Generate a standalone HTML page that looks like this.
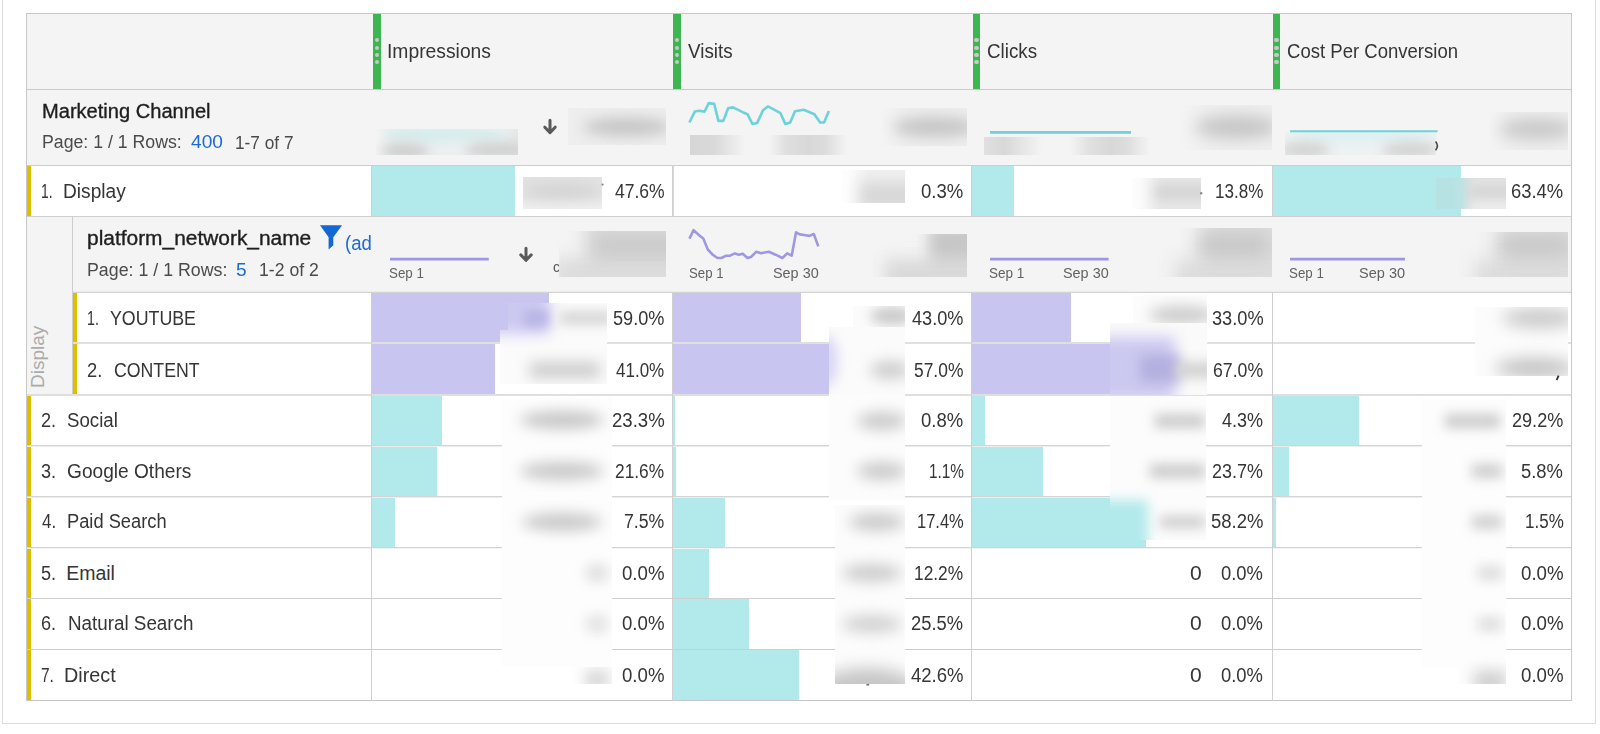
<!DOCTYPE html>
<html><head><meta charset="utf-8"><style>
html,body{margin:0;padding:0;width:1600px;height:734px;overflow:hidden;background:#fff}
#root{position:relative;width:1600px;height:734px;overflow:hidden}
#root div,#root span{position:absolute;box-sizing:border-box}
#root span{font-family:"Liberation Sans",sans-serif;white-space:nowrap;transform-origin:0 0}
</style></head><body><div id="root">
<div style="left:2px;top:0px;width:1px;height:724px;background:#dcdcdc;"></div><div style="left:1595px;top:0px;width:1px;height:724px;background:#dcdcdc;"></div><div style="left:2px;top:723px;width:1594px;height:1px;background:#dcdcdc;"></div><div style="left:26px;top:13px;width:1546px;height:688px;background:#ffffff;"></div><div style="left:26px;top:13px;width:1546px;height:153px;background:#f4f4f4;"></div><div style="left:27px;top:216px;width:45px;height:179px;background:#f4f4f4;"></div><div style="left:72px;top:216px;width:1500px;height:76px;background:#f4f4f4;"></div><div style="left:27px;top:166px;width:4px;height:50px;background:#dfbe00;"></div><div style="left:73px;top:293px;width:4px;height:49px;background:#dfbe00;"></div><div style="left:73px;top:344px;width:4px;height:50px;background:#dfbe00;"></div><div style="left:27px;top:396px;width:4px;height:49px;background:#dfbe00;"></div><div style="left:27px;top:446px;width:4px;height:50px;background:#dfbe00;"></div><div style="left:27px;top:497px;width:4px;height:50px;background:#dfbe00;"></div><div style="left:27px;top:548px;width:4px;height:50px;background:#dfbe00;"></div><div style="left:27px;top:599px;width:4px;height:50px;background:#dfbe00;"></div><div style="left:27px;top:650px;width:4px;height:50px;background:#dfbe00;"></div><div style="left:373px;top:14px;width:8px;height:75px;background:#3db551;"></div><div style="left:374.9px;top:38.1px;width:4.2px;height:4.2px;border-radius:50%;background:#c6c9c6"></div><div style="left:374.9px;top:45.5px;width:4.2px;height:4.2px;border-radius:50%;background:#c6c9c6"></div><div style="left:374.9px;top:52.9px;width:4.2px;height:4.2px;border-radius:50%;background:#c6c9c6"></div><div style="left:374.9px;top:60.3px;width:4.2px;height:4.2px;border-radius:50%;background:#c6c9c6"></div><div style="left:673px;top:14px;width:8px;height:75px;background:#3db551;"></div><div style="left:674.9px;top:38.1px;width:4.2px;height:4.2px;border-radius:50%;background:#c6c9c6"></div><div style="left:674.9px;top:45.5px;width:4.2px;height:4.2px;border-radius:50%;background:#c6c9c6"></div><div style="left:674.9px;top:52.9px;width:4.2px;height:4.2px;border-radius:50%;background:#c6c9c6"></div><div style="left:674.9px;top:60.3px;width:4.2px;height:4.2px;border-radius:50%;background:#c6c9c6"></div><div style="left:973px;top:14px;width:7px;height:75px;background:#3db551;"></div><div style="left:974.4px;top:38.1px;width:4.2px;height:4.2px;border-radius:50%;background:#c6c9c6"></div><div style="left:974.4px;top:45.5px;width:4.2px;height:4.2px;border-radius:50%;background:#c6c9c6"></div><div style="left:974.4px;top:52.9px;width:4.2px;height:4.2px;border-radius:50%;background:#c6c9c6"></div><div style="left:974.4px;top:60.3px;width:4.2px;height:4.2px;border-radius:50%;background:#c6c9c6"></div><div style="left:1273px;top:14px;width:7px;height:75px;background:#3db551;"></div><div style="left:1274.4px;top:38.1px;width:4.2px;height:4.2px;border-radius:50%;background:#c6c9c6"></div><div style="left:1274.4px;top:45.5px;width:4.2px;height:4.2px;border-radius:50%;background:#c6c9c6"></div><div style="left:1274.4px;top:52.9px;width:4.2px;height:4.2px;border-radius:50%;background:#c6c9c6"></div><div style="left:1274.4px;top:60.3px;width:4.2px;height:4.2px;border-radius:50%;background:#c6c9c6"></div><div style="left:372px;top:166px;width:143px;height:50px;background:#b2eaec;"></div><div style="left:673px;top:166px;width:1px;height:50px;background:#b2eaec;"></div><div style="left:972px;top:166px;width:42px;height:50px;background:#b2eaec;"></div><div style="left:1273px;top:166px;width:188.3px;height:50px;background:#b2eaec;"></div><div style="left:372px;top:293px;width:176.7px;height:49px;background:#c8c6f0;"></div><div style="left:673px;top:293px;width:128.4px;height:49px;background:#c8c6f0;"></div><div style="left:972px;top:293px;width:98.8px;height:49px;background:#c8c6f0;"></div><div style="left:372px;top:344px;width:123px;height:50px;background:#c8c6f0;"></div><div style="left:673px;top:344px;width:156.9px;height:50px;background:#c8c6f0;"></div><div style="left:972px;top:344px;width:138px;height:50px;background:#c8c6f0;"></div><div style="left:372px;top:396px;width:69.8px;height:49px;background:#b2eaec;"></div><div style="left:673px;top:396px;width:2px;height:49px;background:#b2eaec;"></div><div style="left:972px;top:396px;width:12.8px;height:49px;background:#b2eaec;"></div><div style="left:1273px;top:396px;width:86.3px;height:49px;background:#b2eaec;"></div><div style="left:372px;top:446px;width:65.0px;height:50px;background:#b2eaec;"></div><div style="left:673px;top:446px;width:3px;height:50px;background:#b2eaec;"></div><div style="left:972px;top:446px;width:70.9px;height:50px;background:#b2eaec;"></div><div style="left:1273px;top:446px;width:16.4px;height:50px;background:#b2eaec;"></div><div style="left:372px;top:497px;width:23.0px;height:50px;background:#b2eaec;"></div><div style="left:673px;top:497px;width:51.5px;height:50px;background:#b2eaec;"></div><div style="left:972px;top:497px;width:173.7px;height:50px;background:#b2eaec;"></div><div style="left:1273px;top:497px;width:3.3px;height:50px;background:#b2eaec;"></div><div style="left:673px;top:548px;width:35.6px;height:50px;background:#b2eaec;"></div><div style="left:673px;top:599px;width:75.5px;height:50px;background:#b2eaec;"></div><div style="left:673px;top:650px;width:126.3px;height:50px;background:#b2eaec;"></div>
<div style="left:26px;top:13px;width:1546px;height:1px;background:#c6c6c6"></div><div style="left:26px;top:89px;width:1546px;height:1px;background:#cacaca"></div><div style="left:26px;top:165px;width:1546px;height:1px;background:#cdcdcd"></div><div style="left:26px;top:216px;width:1546px;height:1px;background:#d0d0d0"></div><div style="left:72px;top:291px;width:1500px;height:1px;background:#ececec"></div><div style="left:72px;top:292px;width:1500px;height:1px;background:#d4d4d4"></div><div style="left:72px;top:342px;width:1500px;height:2px;background:#e0e0e0"></div><div style="left:26px;top:394px;width:1546px;height:2px;background:#dfdfdf"></div><div style="left:26px;top:445px;width:1546px;height:1px;background:#d4d4d4"></div><div style="left:26px;top:446px;width:1546px;height:1px;background:#ededed"></div><div style="left:26px;top:496px;width:1546px;height:1px;background:#d4d4d4"></div><div style="left:26px;top:497px;width:1546px;height:1px;background:#eeeeee"></div><div style="left:26px;top:547px;width:1546px;height:1px;background:#d2d2d2"></div><div style="left:26px;top:548px;width:1546px;height:1px;background:#f4f4f4"></div><div style="left:26px;top:598px;width:1546px;height:1px;background:#cfcfcf"></div><div style="left:26px;top:649px;width:1546px;height:1px;background:#cdcdcd"></div><div style="left:26px;top:700px;width:1546px;height:1px;background:#c6c6c6"></div><div style="left:26px;top:13px;width:1px;height:688px;background:#c8c8c8"></div><div style="left:1571px;top:13px;width:1px;height:688px;background:#c8c8c8"></div><div style="left:72px;top:216px;width:1px;height:178px;background:#cdcdcd"></div><div style="left:371px;top:165px;width:1px;height:51px;background:#d0d0d0"></div><div style="left:371px;top:292px;width:1px;height:409px;background:#d0d0d0"></div><div style="left:672px;top:165px;width:1px;height:51px;background:#d0d0d0"></div><div style="left:672px;top:292px;width:1px;height:409px;background:#d0d0d0"></div><div style="left:971px;top:165px;width:1px;height:51px;background:#d0d0d0"></div><div style="left:971px;top:292px;width:1px;height:409px;background:#d0d0d0"></div><div style="left:1272px;top:165px;width:1px;height:51px;background:#d0d0d0"></div><div style="left:1272px;top:292px;width:1px;height:409px;background:#d0d0d0"></div>
<div style="left:376px;top:129px;width:142.0px;height:26.0px;overflow:hidden;background:linear-gradient(90deg,#f4f4f4,#e9eeee 12%,#eef1f1 88%,#e6e8e8);"><div style="left:7.0px;top:-1.0px;width:124.0px;height:12.0px;border-radius:50%;background:#d2ecee;filter:blur(5px)"></div><div style="left:5.0px;top:15.0px;width:48.0px;height:14.0px;border-radius:50%;background:#cbcbcb;filter:blur(6px)"></div><div style="left:89.0px;top:13.0px;width:64.0px;height:16.0px;border-radius:50%;background:#cfcfcf;filter:blur(6px)"></div></div><div style="left:568px;top:108px;width:98.0px;height:37.0px;overflow:hidden;background:#eeeeee;"><div style="left:15.0px;top:10.0px;width:88.0px;height:18.0px;border-radius:50%;background:#c4c4c4;filter:blur(7px)"></div></div><div style="left:690px;top:135px;width:55.0px;height:20.0px;overflow:hidden;background:linear-gradient(90deg,#d6d6d6,#d9d9d9 45%,#f4f4f4);"></div><div style="left:769px;top:135px;width:78.0px;height:20.0px;overflow:hidden;background:linear-gradient(90deg,#f4f4f4,#dfdfdf 22%,#d8d8d8 50%,#dcdcdc 72%,#f4f4f4);"></div><div style="left:881px;top:108px;width:86.0px;height:38.0px;overflow:hidden;background:linear-gradient(90deg,#f4f4f4,#eeeeee 30%);"><div style="left:12.0px;top:9.0px;width:84.0px;height:20.0px;border-radius:50%;background:#c6c6c6;filter:blur(7px)"></div></div><div style="left:984px;top:137px;width:58.0px;height:18.0px;overflow:hidden;background:linear-gradient(90deg,#e0e0e0,#d8d8d8 35%,#f4f4f4);"></div><div style="left:1070px;top:137px;width:80.0px;height:18.0px;overflow:hidden;background:linear-gradient(90deg,#f4f4f4,#e0e0e0 25%,#d8d8d8 50%,#dcdcdc 70%,#f4f4f4);"></div><div style="left:1181px;top:105px;width:91.0px;height:45.0px;overflow:hidden;background:linear-gradient(90deg,#f4f4f4,#efefef 30%);"><div style="left:14.0px;top:11.0px;width:84.0px;height:22.0px;border-radius:50%;background:#c4c4c4;filter:blur(8px)"></div></div><div style="left:1285px;top:132px;width:151.0px;height:23.0px;overflow:hidden;background:#eef2f2;"><div style="left:7.0px;top:-2.0px;width:140.0px;height:12.0px;border-radius:50%;background:#dcf0f2;filter:blur(5px)"></div><div style="left:-5.0px;top:10.0px;width:50.0px;height:16.0px;border-radius:50%;background:#d2d2d2;filter:blur(6px)"></div><div style="left:97.0px;top:10.0px;width:56.0px;height:16.0px;border-radius:50%;background:#d2d2d2;filter:blur(6px)"></div></div><div style="left:1489px;top:112px;width:79.0px;height:38.0px;overflow:hidden;background:linear-gradient(90deg,#f4f4f4,#efefef 30%);"><div style="left:10.0px;top:7.0px;width:76.0px;height:20.0px;border-radius:50%;background:#c6c6c6;filter:blur(8px)"></div></div><div style="left:559px;top:231px;width:107.0px;height:46.4px;overflow:hidden"><div style="left:-19.0px;top:-31.0px;width:160.0px;height:100.0px;background:#f4f4f4;filter:blur(0px)"></div><div style="left:26.0px;top:-16.0px;width:115.0px;height:85.0px;background:#d8d8d8;filter:blur(9px)"></div><div style="left:-4.0px;top:27.0px;width:145.0px;height:42.0px;background:#dcdcdc;filter:blur(8px)"></div><div style="left:36.0px;top:6.0px;width:95.0px;height:19.0px;background:#cacaca;filter:blur(8px)"></div></div><div style="left:873px;top:234px;width:94.0px;height:43.4px;overflow:hidden"><div style="left:-23.0px;top:-24.0px;width:150.0px;height:90.0px;background:#f4f4f4;filter:blur(0px)"></div><div style="left:57.0px;top:-24.0px;width:70.0px;height:90.0px;background:#d6d6d6;filter:blur(8px)"></div><div style="left:12.0px;top:25.0px;width:115.0px;height:41.0px;background:#d9d9d9;filter:blur(8px)"></div><div style="left:59.0px;top:-4.0px;width:58.0px;height:26.0px;background:#c6c6c6;filter:blur(7px)"></div></div><div style="left:1154.8px;top:228px;width:117.2px;height:49.4px;overflow:hidden"><div style="left:-24.8px;top:-28.0px;width:170.0px;height:100.0px;background:#f4f4f4;filter:blur(0px)"></div><div style="left:45.2px;top:-23.0px;width:100.0px;height:95.0px;background:#dddddd;filter:blur(10px)"></div><div style="left:20.2px;top:32.0px;width:125.0px;height:40.0px;background:#dcdcdc;filter:blur(9px)"></div><div style="left:45.2px;top:6.0px;width:68.0px;height:22.0px;background:#c6c6c6;filter:blur(9px)"></div></div><div style="left:1454.3px;top:232px;width:113.4px;height:45.4px;overflow:hidden"><div style="left:-24.3px;top:-32.0px;width:170.0px;height:100.0px;background:#f4f4f4;filter:blur(0px)"></div><div style="left:43.7px;top:-27.0px;width:102.0px;height:95.0px;background:#dddddd;filter:blur(10px)"></div><div style="left:20.7px;top:28.0px;width:125.0px;height:40.0px;background:#dcdcdc;filter:blur(9px)"></div><div style="left:45.7px;top:4.0px;width:70.0px;height:20.0px;background:#c6c6c6;filter:blur(9px)"></div></div><div style="left:523px;top:177px;width:79.0px;height:31.6px;overflow:hidden;background:linear-gradient(180deg,#e2e2e2,#e4e4e4 60%,#efefef);"><div style="left:1.0px;top:7.0px;width:76.0px;height:14.0px;border-radius:50%;background:#d3d3d3;filter:blur(6px)"></div></div><div style="left:842px;top:170px;width:63.0px;height:32.8px;overflow:hidden"><div style="left:-22.0px;top:-20.0px;width:110.0px;height:80.0px;background:#f0f0f0;filter:blur(0px)"></div><div style="left:-37.0px;top:-20.0px;width:53.0px;height:80.0px;background:#fdfdfd;filter:blur(8px)"></div><div style="left:18.0px;top:12.0px;width:70.0px;height:28.0px;background:#d8d8d8;filter:blur(7px)"></div></div><div style="left:1132px;top:177.6px;width:69.0px;height:31.0px;overflow:hidden"><div style="left:-32.0px;top:-27.6px;width:130.0px;height:80.0px;background:#e8e8e8;filter:blur(0px)"></div><div style="left:-42.0px;top:-27.6px;width:60.0px;height:90.0px;background:#fcfcfc;filter:blur(8px)"></div><div style="left:23.0px;top:6.4px;width:60.0px;height:16.0px;background:#d4d4d4;filter:blur(6px)"></div></div><div style="left:1436.3px;top:178px;width:69.7px;height:30.6px;overflow:hidden"><div style="left:-36.3px;top:-28.0px;width:140.0px;height:90.0px;background:#e2e2e2;filter:blur(0px)"></div><div style="left:-36.3px;top:-28.0px;width:66.0px;height:90.0px;background:#b6e2e4;filter:blur(6px)"></div><div style="left:33.7px;top:8.0px;width:55.0px;height:12.0px;background:#d6d6d6;filter:blur(5px)"></div><div style="left:33.7px;top:25.0px;width:70.0px;height:37.0px;background:#eeeeee;filter:blur(6px)"></div></div><div style="left:508.4px;top:303px;width:98.6px;height:27.0px;overflow:hidden"><div style="left:-28.4px;top:-23.0px;width:140.0px;height:120.0px;background:#fbfbfb;filter:blur(0px)"></div><div style="left:-38.4px;top:-18.0px;width:80.0px;height:49.0px;background:#ccc9f1;filter:blur(7px)"></div><div style="left:15.6px;top:7.0px;width:24.0px;height:16.0px;background:#b9b6e5;filter:blur(5px)"></div><div style="left:51.6px;top:9.0px;width:52.0px;height:12.0px;background:#d2d2d2;filter:blur(6px)"></div><div style="left:21.6px;top:59.0px;width:70.0px;height:16.0px;background:#cdcdcd;filter:blur(7px)"></div></div><div style="left:500px;top:330px;width:107.0px;height:54.0px;overflow:hidden"><div style="left:-20.0px;top:-50.0px;width:140.0px;height:120.0px;background:#fbfbfb;filter:blur(0px)"></div><div style="left:-30.0px;top:-45.0px;width:80.0px;height:49.0px;background:#ccc9f1;filter:blur(7px)"></div><div style="left:24.0px;top:-20.0px;width:24.0px;height:16.0px;background:#b9b6e5;filter:blur(5px)"></div><div style="left:60.0px;top:-18.0px;width:52.0px;height:12.0px;background:#d2d2d2;filter:blur(6px)"></div><div style="left:30.0px;top:32.0px;width:70.0px;height:16.0px;background:#cdcdcd;filter:blur(7px)"></div></div><div style="left:853px;top:305.6px;width:52.0px;height:24.4px;overflow:hidden;background:#fbfbfb;"><div style="left:17.0px;top:1.4px;width:44.0px;height:18.0px;border-radius:50%;background:#cacaca;filter:blur(6px)"></div></div><div style="left:829.2px;top:327px;width:75.8px;height:68.0px;overflow:hidden;background:#fbfbfb;"><div style="left:-15.2px;top:8.0px;width:24.0px;height:52.0px;border-radius:50%;background:#d9d6f4;filter:blur(6px)"></div><div style="left:40.8px;top:34.0px;width:40.0px;height:18.0px;border-radius:50%;background:#cdcdcd;filter:blur(7px)"></div></div><div style="left:1133.4px;top:295px;width:73.6px;height:28.0px;overflow:hidden;background:#fcfcfc;"><div style="left:15.6px;top:11.0px;width:66.0px;height:18.0px;border-radius:50%;background:#cbcbcb;filter:blur(7px)"></div></div><div style="left:1110px;top:323px;width:97.0px;height:72.0px;overflow:hidden"><div style="left:-10.0px;top:-23.0px;width:120.0px;height:120.0px;background:#fafafa;filter:blur(0px)"></div><div style="left:-30.0px;top:14.0px;width:95.0px;height:63.0px;background:#ccc9f0;filter:blur(7px)"></div><div style="left:30.0px;top:32.0px;width:40.0px;height:27.0px;background:#b3b0df;filter:blur(6px)"></div><div style="left:65.0px;top:39.0px;width:40.0px;height:16.0px;background:#d2d2d2;filter:blur(6px)"></div></div><div style="left:1475.4px;top:306.5px;width:92.6px;height:69.7px;overflow:hidden;background:#fcfcfc;"><div style="left:26.6px;top:1.5px;width:76.0px;height:20.0px;border-radius:50%;background:#c9c9c9;filter:blur(8px)"></div><div style="left:19.6px;top:51.5px;width:80.0px;height:20.0px;border-radius:50%;background:#c3c3c3;filter:blur(8px)"></div></div><div style="left:502px;top:398px;width:110.0px;height:268.7px;overflow:hidden;background:#fdfdfd;"><div style="left:18.0px;top:13.0px;width:84.0px;height:18.0px;border-radius:50%;background:#c6c6c6;filter:blur(7px)"></div><div style="left:18.0px;top:64.0px;width:84.0px;height:18.0px;border-radius:50%;background:#c8c8c8;filter:blur(7px)"></div><div style="left:20.0px;top:115.0px;width:80.0px;height:18.0px;border-radius:50%;background:#c8c8c8;filter:blur(7px)"></div><div style="left:83.0px;top:165.0px;width:24.0px;height:20.0px;border-radius:50%;background:#e2e2e2;filter:blur(6px)"></div><div style="left:83.0px;top:216.0px;width:24.0px;height:20.0px;border-radius:50%;background:#e4e4e4;filter:blur(6px)"></div></div><div style="left:571px;top:666.7px;width:41.0px;height:17.3px;overflow:hidden;background:linear-gradient(90deg,#ffffff,#fbfbfb 40%);"><div style="left:13.0px;top:2.3px;width:26.0px;height:22.0px;border-radius:50%;background:#dcdcdc;filter:blur(6px)"></div></div><div style="left:829.4px;top:395px;width:75.6px;height:104.5px;overflow:hidden;background:#fcfcfc;"><div style="left:27.6px;top:17.0px;width:50.0px;height:18.0px;border-radius:50%;background:#cbcbcb;filter:blur(7px)"></div><div style="left:27.6px;top:67.0px;width:50.0px;height:18.0px;border-radius:50%;background:#cbcbcb;filter:blur(7px)"></div></div><div style="left:835px;top:504.8px;width:70.0px;height:179.4px;overflow:hidden;background:#fcfcfc;"><div style="left:14.0px;top:8.2px;width:56.0px;height:18.0px;border-radius:50%;background:#cbcbcb;filter:blur(7px)"></div><div style="left:7.0px;top:59.2px;width:60.0px;height:18.0px;border-radius:50%;background:#cdcdcd;filter:blur(7px)"></div><div style="left:7.0px;top:110.2px;width:60.0px;height:18.0px;border-radius:50%;background:#d2d2d2;filter:blur(7px)"></div><div style="left:-15.0px;top:163.2px;width:96.0px;height:40.0px;border-radius:50%;background:#c6c6c6;filter:blur(8px)"></div></div><div style="left:1109.8px;top:396px;width:96.7px;height:143.7px;overflow:hidden"><div style="left:-9.8px;top:-16.0px;width:120.0px;height:180.0px;background:#fcfcfc;filter:blur(0px)"></div><div style="left:-29.8px;top:104.0px;width:68.0px;height:60.0px;background:#b2e9eb;filter:blur(6px)"></div><div style="left:45.2px;top:18.0px;width:50.0px;height:14.0px;background:#cbcbcb;filter:blur(6px)"></div><div style="left:40.2px;top:68.0px;width:55.0px;height:14.0px;background:#cbcbcb;filter:blur(6px)"></div><div style="left:50.2px;top:120.0px;width:45.0px;height:12.0px;background:#cdcdcd;filter:blur(6px)"></div></div><div style="left:1422px;top:398px;width:84.0px;height:269.7px;overflow:hidden"><div style="left:-22.0px;top:-18.0px;width:120.0px;height:320.0px;background:#fdfdfd;filter:blur(0px)"></div><div style="left:23.0px;top:16.0px;width:55.0px;height:14.0px;background:#cbcbcb;filter:blur(6px)"></div><div style="left:50.0px;top:66.0px;width:30.0px;height:14.0px;background:#cdcdcd;filter:blur(6px)"></div><div style="left:50.0px;top:117.0px;width:30.0px;height:14.0px;background:#d0d0d0;filter:blur(6px)"></div><div style="left:56.0px;top:168.0px;width:24.0px;height:14.0px;background:#dcdcdc;filter:blur(6px)"></div><div style="left:56.0px;top:219.0px;width:24.0px;height:14.0px;background:#dedede;filter:blur(6px)"></div><div style="left:52.0px;top:272.0px;width:32.0px;height:25.0px;background:#d2d2d2;filter:blur(7px)"></div></div><div style="left:1458.7px;top:667.7px;width:47.3px;height:16.3px;overflow:hidden"><div style="left:-58.7px;top:-287.7px;width:120.0px;height:320.0px;background:#fdfdfd;filter:blur(0px)"></div><div style="left:-13.7px;top:-253.7px;width:55.0px;height:14.0px;background:#cbcbcb;filter:blur(6px)"></div><div style="left:13.3px;top:-203.7px;width:30.0px;height:14.0px;background:#cdcdcd;filter:blur(6px)"></div><div style="left:13.3px;top:-152.7px;width:30.0px;height:14.0px;background:#d0d0d0;filter:blur(6px)"></div><div style="left:19.3px;top:-101.7px;width:24.0px;height:14.0px;background:#dcdcdc;filter:blur(6px)"></div><div style="left:19.3px;top:-50.7px;width:24.0px;height:14.0px;background:#dedede;filter:blur(6px)"></div><div style="left:15.3px;top:2.3px;width:32.0px;height:25.0px;background:#d2d2d2;filter:blur(7px)"></div></div>
<svg width="1600" height="734" style="position:absolute;left:0;top:0"><polyline fill="none" stroke="#6ed2da" stroke-width="2.6" stroke-linejoin="round" points="689.4,122.5 694.8,111.6 699.1,110.7 704.5,111.6 708.8,103.1 714.2,103.9 718.4,120.9 723.3,120.9 728.1,108.3 733,107.4 742.7,112.2 747.5,114.2 752.4,123.9 757.2,122.9 763,110.3 767.9,106.4 772.7,108.9 780.5,113.2 785.3,123.9 790.2,122.5 795,111.3 803.7,109.7 814.4,114.2 820.2,122.5 824.1,122.5 828.9,110.9"/><line x1="990" y1="132.4" x2="1131" y2="132.4" stroke="#6ed2da" stroke-width="2.8"/><line x1="1290" y1="131.3" x2="1437.6" y2="131.3" stroke="#6ed2da" stroke-width="2"/><polyline fill="none" stroke="#9e98e4" stroke-width="2.6" stroke-linejoin="round" points="689.4,238.6 693.6,230.1 699.1,235.3 703.3,238.6 707.8,249.5 712.6,254.7 717.5,258 721.4,258 726.2,255.7 730.1,255.7 734.9,253.4 738.8,254.7 742.7,253.8 747.5,258 751.4,256.7 756.2,251.8 761.1,253.2 768.8,251.8 775.6,254.7 782.4,258 787.2,253.4 791.7,255.7 796,232.4 799.8,234.4 805.7,235.3 809.5,235.9 813.8,234 818.3,246.4"/><line x1="390" y1="259.2" x2="488.8" y2="259.2" stroke="#9e98e4" stroke-width="2.8"/><line x1="990" y1="259.2" x2="1108.6" y2="259.2" stroke="#9e98e4" stroke-width="2.8"/><line x1="1290" y1="259.2" x2="1405" y2="259.2" stroke="#9e98e4" stroke-width="2.8"/><path d="M320 225.2 H342.1 L333.3 237.3 V245.3 L328.6 249.6 V237.3 Z" fill="#1468d2"/><path d="M550 120.2 V131.1 M544.8 127.19999999999999 L550 132.6 L555.2 127.19999999999999" fill="none" stroke="#5a5a5a" stroke-width="3" stroke-linecap="round" stroke-linejoin="round"/><path d="M526 248.2 V258.8 M520.8 254.9 L526 260.3 L531.2 254.9" fill="none" stroke="#5a5a5a" stroke-width="3" stroke-linecap="round" stroke-linejoin="round"/><path d="M1435.6 141.5 Q1439.2 145.8 1435.6 150.2" fill="none" stroke="#444" stroke-width="1.6"/><path d="M1558.6 375.6 L1556.6 380.2" fill="none" stroke="#333" stroke-width="1.8"/><circle cx="602.6" cy="184.6" r="1.1" fill="#888"/><circle cx="1201.2" cy="193.2" r="1.2" fill="#888"/><path d="M866.4 684.8 H869.2" fill="none" stroke="#555" stroke-width="1.3"/></svg>
<span style="left:387.42px;top:42.00px;font-size:19.5px;line-height:19.5px;font-weight:400;color:#353535;transform:scaleX(0.9892)">Impressions</span><span style="left:688.10px;top:42.00px;font-size:19.5px;line-height:19.5px;font-weight:400;color:#353535;transform:scaleX(0.9652)">Visits</span><span style="left:987.14px;top:42.00px;font-size:19.5px;line-height:19.5px;font-weight:400;color:#353535;transform:scaleX(0.9640)">Clicks</span><span style="left:1287.15px;top:42.00px;font-size:19.5px;line-height:19.5px;font-weight:400;color:#353535;transform:scaleX(0.9506)">Cost Per Conversion</span><span style="left:41.74px;top:102.00px;font-size:19.5px;line-height:19.5px;font-weight:400;color:#1e1e1e;transform:scaleX(1.0298);-webkit-text-stroke:0.35px #1e1e1e">Marketing Channel</span><span style="left:41.52px;top:133.00px;font-size:18px;line-height:18px;font-weight:400;color:#4a4a4a;transform:scaleX(0.9836)">Page: 1 / 1 Rows:</span><span style="left:190.90px;top:133.00px;font-size:18px;line-height:18px;font-weight:400;color:#1a6ad4;transform:scaleX(1.0633)">400</span><span style="left:235.34px;top:134.00px;font-size:18px;line-height:18px;font-weight:400;color:#4a4a4a;transform:scaleX(0.9593)">1-7 of 7</span><span style="left:87.33px;top:229.00px;font-size:19.5px;line-height:19.5px;font-weight:400;color:#1e1e1e;transform:scaleX(1.0720);-webkit-text-stroke:0.35px #1e1e1e">platform_network_name</span><div style="left:0;top:0;width:372px;height:734px;overflow:hidden"><span style="left:344.95px;top:234.00px;font-size:19.5px;line-height:19.5px;font-weight:400;color:#1a6ad4;transform:scaleX(0.9500)">(ad</span></div><span style="left:87.41px;top:261.00px;font-size:18px;line-height:18px;font-weight:400;color:#4a4a4a;transform:scaleX(0.9886)">Page: 1 / 1 Rows:</span><span style="left:236.44px;top:261.00px;font-size:18px;line-height:18px;font-weight:400;color:#1a6ad4;transform:scaleX(1.0625)">5</span><span style="left:259.02px;top:261.00px;font-size:18px;line-height:18px;font-weight:400;color:#4a4a4a;transform:scaleX(0.9797)">1-2 of 2</span><span style="left:40.79px;top:182.00px;font-size:19.5px;line-height:19.5px;font-weight:400;color:#353535;transform:scaleX(0.7143)">1.</span><span style="left:62.79px;top:182.00px;font-size:19.5px;line-height:19.5px;font-weight:400;color:#353535;transform:scaleX(0.9815)">Display</span><span style="left:87.27px;top:309.00px;font-size:19.5px;line-height:19.5px;font-weight:400;color:#353535;transform:scaleX(0.7286)">1.</span><span style="left:109.79px;top:309.00px;font-size:19.5px;line-height:19.5px;font-weight:400;color:#353535;transform:scaleX(0.9118)">YOUTUBE</span><span style="left:87.36px;top:361.00px;font-size:19.5px;line-height:19.5px;font-weight:400;color:#353535;transform:scaleX(0.9429)">2.</span><span style="left:113.79px;top:361.00px;font-size:19.5px;line-height:19.5px;font-weight:400;color:#353535;transform:scaleX(0.9086)">CONTENT</span><span style="left:40.97px;top:411.00px;font-size:19.5px;line-height:19.5px;font-weight:400;color:#353535;transform:scaleX(0.9286)">2.</span><span style="left:67.24px;top:411.00px;font-size:19.5px;line-height:19.5px;font-weight:400;color:#353535;transform:scaleX(0.9569)">Social</span><span style="left:40.97px;top:462.00px;font-size:19.5px;line-height:19.5px;font-weight:400;color:#353535;transform:scaleX(0.9286)">3.</span><span style="left:66.62px;top:462.00px;font-size:19.5px;line-height:19.5px;font-weight:400;color:#353535;transform:scaleX(0.9808)">Google Others</span><span style="left:41.90px;top:512.00px;font-size:19.5px;line-height:19.5px;font-weight:400;color:#353535;transform:scaleX(0.8667)">4.</span><span style="left:66.88px;top:512.00px;font-size:19.5px;line-height:19.5px;font-weight:400;color:#353535;transform:scaleX(0.9374)">Paid Search</span><span style="left:40.97px;top:564.00px;font-size:19.5px;line-height:19.5px;font-weight:400;color:#353535;transform:scaleX(0.9286)">5.</span><span style="left:66.20px;top:564.00px;font-size:19.5px;line-height:19.5px;font-weight:400;color:#353535;transform:scaleX(1.0000)">Email</span><span style="left:40.97px;top:614.00px;font-size:19.5px;line-height:19.5px;font-weight:400;color:#353535;transform:scaleX(0.9286)">6.</span><span style="left:67.57px;top:614.00px;font-size:19.5px;line-height:19.5px;font-weight:400;color:#353535;transform:scaleX(0.9646)">Natural Search</span><span style="left:41.11px;top:666.00px;font-size:19.5px;line-height:19.5px;font-weight:400;color:#353535;transform:scaleX(0.7929)">7.</span><span style="left:63.97px;top:666.00px;font-size:19.5px;line-height:19.5px;font-weight:400;color:#353535;transform:scaleX(1.0143)">Direct</span><span style="left:614.60px;top:182.00px;font-size:19.5px;line-height:19.5px;font-weight:400;color:#353535;transform:scaleX(0.8982)">47.6%</span><span style="left:921.35px;top:182.00px;font-size:19.5px;line-height:19.5px;font-weight:400;color:#353535;transform:scaleX(0.9512)">0.3%</span><span style="left:1214.82px;top:182.00px;font-size:19.5px;line-height:19.5px;font-weight:400;color:#353535;transform:scaleX(0.8759)">13.8%</span><span style="left:1511.06px;top:182.00px;font-size:19.5px;line-height:19.5px;font-weight:400;color:#353535;transform:scaleX(0.9444)">63.4%</span><span style="left:612.87px;top:309.00px;font-size:19.5px;line-height:19.5px;font-weight:400;color:#353535;transform:scaleX(0.9296)">59.0%</span><span style="left:912.00px;top:309.00px;font-size:19.5px;line-height:19.5px;font-weight:400;color:#353535;transform:scaleX(0.9309)">43.0%</span><span style="left:1211.67px;top:309.00px;font-size:19.5px;line-height:19.5px;font-weight:400;color:#353535;transform:scaleX(0.9333)">33.0%</span><span style="left:616.00px;top:361.00px;font-size:19.5px;line-height:19.5px;font-weight:400;color:#353535;transform:scaleX(0.8727)">41.0%</span><span style="left:914.11px;top:361.00px;font-size:19.5px;line-height:19.5px;font-weight:400;color:#353535;transform:scaleX(0.8926)">57.0%</span><span style="left:1213.09px;top:361.00px;font-size:19.5px;line-height:19.5px;font-weight:400;color:#353535;transform:scaleX(0.9074)">67.0%</span><span style="left:611.55px;top:411.00px;font-size:19.5px;line-height:19.5px;font-weight:400;color:#353535;transform:scaleX(0.9537)">23.3%</span><span style="left:921.45px;top:411.00px;font-size:19.5px;line-height:19.5px;font-weight:400;color:#353535;transform:scaleX(0.9488)">0.8%</span><span style="left:1222.40px;top:411.00px;font-size:19.5px;line-height:19.5px;font-weight:400;color:#353535;transform:scaleX(0.9227)">4.3%</span><span style="left:1511.97px;top:411.00px;font-size:19.5px;line-height:19.5px;font-weight:400;color:#353535;transform:scaleX(0.9278)">29.2%</span><span style="left:615.11px;top:462.00px;font-size:19.5px;line-height:19.5px;font-weight:400;color:#353535;transform:scaleX(0.8889)">21.6%</span><span style="left:928.51px;top:462.00px;font-size:19.5px;line-height:19.5px;font-weight:400;color:#353535;transform:scaleX(0.7884)">1.1%</span><span style="left:1212.38px;top:462.00px;font-size:19.5px;line-height:19.5px;font-weight:400;color:#353535;transform:scaleX(0.9204)">23.7%</span><span style="left:1521.46px;top:462.00px;font-size:19.5px;line-height:19.5px;font-weight:400;color:#353535;transform:scaleX(0.9442)">5.8%</span><span style="left:624.09px;top:512.00px;font-size:19.5px;line-height:19.5px;font-weight:400;color:#353535;transform:scaleX(0.9070)">7.5%</span><span style="left:916.65px;top:512.00px;font-size:19.5px;line-height:19.5px;font-weight:400;color:#353535;transform:scaleX(0.8463)">17.4%</span><span style="left:1210.85px;top:512.00px;font-size:19.5px;line-height:19.5px;font-weight:400;color:#353535;transform:scaleX(0.9481)">58.2%</span><span style="left:1524.63px;top:512.00px;font-size:19.5px;line-height:19.5px;font-weight:400;color:#353535;transform:scaleX(0.8721)">1.5%</span><span style="left:621.94px;top:564.00px;font-size:19.5px;line-height:19.5px;font-weight:400;color:#353535;transform:scaleX(0.9558)">0.0%</span><span style="left:914.31px;top:564.00px;font-size:19.5px;line-height:19.5px;font-weight:400;color:#353535;transform:scaleX(0.8889)">12.2%</span><span style="left:1221.46px;top:564.00px;font-size:19.5px;line-height:19.5px;font-weight:400;color:#353535;transform:scaleX(0.9442)">0.0%</span><span style="left:1520.84px;top:564.00px;font-size:19.5px;line-height:19.5px;font-weight:400;color:#353535;transform:scaleX(0.9581)">0.0%</span><span style="left:621.94px;top:614.00px;font-size:19.5px;line-height:19.5px;font-weight:400;color:#353535;transform:scaleX(0.9558)">0.0%</span><span style="left:911.46px;top:614.00px;font-size:19.5px;line-height:19.5px;font-weight:400;color:#353535;transform:scaleX(0.9407)">25.5%</span><span style="left:1221.46px;top:614.00px;font-size:19.5px;line-height:19.5px;font-weight:400;color:#353535;transform:scaleX(0.9442)">0.0%</span><span style="left:1520.84px;top:614.00px;font-size:19.5px;line-height:19.5px;font-weight:400;color:#353535;transform:scaleX(0.9581)">0.0%</span><span style="left:621.94px;top:666.00px;font-size:19.5px;line-height:19.5px;font-weight:400;color:#353535;transform:scaleX(0.9558)">0.0%</span><span style="left:910.90px;top:666.00px;font-size:19.5px;line-height:19.5px;font-weight:400;color:#353535;transform:scaleX(0.9509)">42.6%</span><span style="left:1221.46px;top:666.00px;font-size:19.5px;line-height:19.5px;font-weight:400;color:#353535;transform:scaleX(0.9442)">0.0%</span><span style="left:1520.84px;top:666.00px;font-size:19.5px;line-height:19.5px;font-weight:400;color:#353535;transform:scaleX(0.9581)">0.0%</span><span style="left:1190.22px;top:564.00px;font-size:19.5px;line-height:19.5px;font-weight:400;color:#353535;transform:scaleX(1.0778)">0</span><span style="left:1190.22px;top:614.00px;font-size:19.5px;line-height:19.5px;font-weight:400;color:#353535;transform:scaleX(1.0778)">0</span><span style="left:1190.22px;top:666.00px;font-size:19.5px;line-height:19.5px;font-weight:400;color:#353535;transform:scaleX(1.0778)">0</span><span style="left:389.44px;top:265.00px;font-size:15.5px;line-height:15.5px;font-weight:400;color:#616161;transform:scaleX(0.8615)">Sep 1</span><span style="left:689.15px;top:265.00px;font-size:15.5px;line-height:15.5px;font-weight:400;color:#616161;transform:scaleX(0.8538)">Sep 1</span><span style="left:772.77px;top:265.00px;font-size:15.5px;line-height:15.5px;font-weight:400;color:#616161;transform:scaleX(0.9292)">Sep 30</span><span style="left:989.13px;top:265.00px;font-size:15.5px;line-height:15.5px;font-weight:400;color:#616161;transform:scaleX(0.8718)">Sep 1</span><span style="left:1063.07px;top:265.00px;font-size:15.5px;line-height:15.5px;font-weight:400;color:#616161;transform:scaleX(0.9292)">Sep 30</span><span style="left:1289.14px;top:265.00px;font-size:15.5px;line-height:15.5px;font-weight:400;color:#616161;transform:scaleX(0.8590)">Sep 1</span><span style="left:1359.06px;top:265.00px;font-size:15.5px;line-height:15.5px;font-weight:400;color:#616161;transform:scaleX(0.9375)">Sep 30</span><div style="left:0;top:0;width:559px;height:734px;overflow:hidden"><span style="left:552.65px;top:259.00px;font-size:15px;line-height:15px;font-weight:400;color:#555;transform:scaleX(0.9500)">c</span></div>
<div style="left:28.4px;top:327.6px;width:20px;height:60px;"><span style="position:absolute;left:-20px;top:20px;width:60px;height:20px;transform:rotate(-90deg);transform-origin:center;font-family:'Liberation Sans';font-size:19px;line-height:20px;color:#ababab;white-space:nowrap">Display</span></div>
</div></body></html>
